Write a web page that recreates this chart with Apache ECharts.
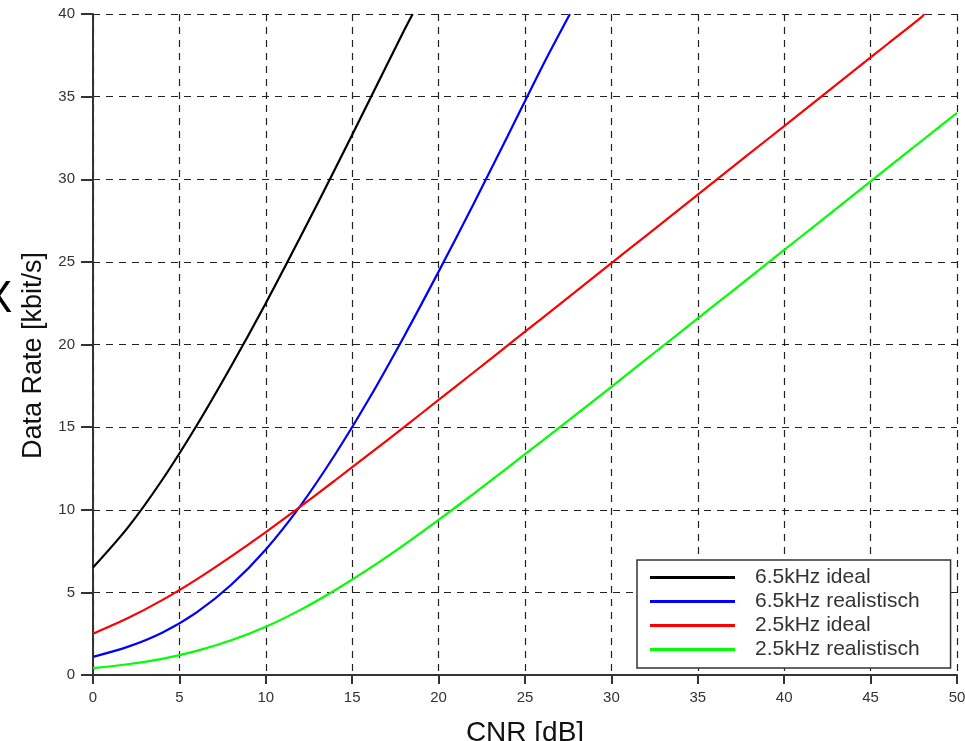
<!DOCTYPE html>
<html>
<head>
<meta charset="utf-8">
<script src="https://cdn.jsdelivr.net/npm/echarts@6/dist/echarts.min.js"></script>
<style>
  html, body { margin: 0; padding: 0; background: #fff; }
  #chart { width: 965px; height: 741px; }
</style>
</head>
<body>
<div id="chart"></div>
<script>
  // values (CNR in dB, data rate in kbit/s)
  var xTicks = [0, 5, 10, 15, 20, 25, 30, 35, 40, 45, 50];
  var yTicks = [0, 5, 10, 15, 20, 25, 30, 35, 40];

  var ideal65X = [0, 2, 4, 6, 8, 10, 12, 14, 16, 18, 18.5];
  var ideal65Y = [6.5, 8.9, 11.8, 15.1, 18.7, 22.5, 26.5, 30.6, 34.8, 39.0, 40];

  var real65X = [0, 2, 4, 6, 8, 10, 12, 14, 16, 18, 20, 22, 24, 26, 27.6];
  var real65Y = [1.1, 1.7, 2.56, 3.79, 5.46, 7.6, 10.24, 13.33, 16.76, 20.49, 24.41, 28.46, 32.62, 36.83, 40];

  var ideal25X = [0, 2, 4, 6, 8, 10, 12, 14, 16, 18, 20, 22, 24, 26, 28, 30, 32, 34, 36, 38, 40, 42, 44, 46, 48, 48.1];
  var ideal25Y = [2.5, 3.43, 4.53, 5.79, 7.18, 8.65, 10.19, 11.77, 13.38, 15.0, 16.65, 18.29, 19.95, 21.6, 23.26,
                  24.92, 26.58, 28.24, 29.9, 31.56, 33.22, 34.88, 36.54, 38.2, 39.86, 40];

  var real25X = [0, 2, 4, 6, 8, 10, 12, 14, 16, 18, 20, 22, 24, 26, 28, 30, 32, 34, 36, 38, 40, 42, 44, 46, 48, 50];
  var real25Y = [0.42, 0.65, 0.98, 1.46, 2.1, 2.92, 3.94, 5.13, 6.45, 7.88, 9.39, 10.95, 12.55, 14.17, 15.8,
                 17.44, 19.1, 20.75, 22.41, 24.06, 25.72, 27.38, 29.04, 30.7, 32.36, 34.02];

  function pairs(xs, ys) {
      return xs.map(function (x, i) { return [x, ys[i]]; });
  }

  var dom = document.getElementById("chart");
  var myChart = echarts.init(dom);

  var gridLine = { show: true, lineStyle: { color: '#222', width: 1.2, type: [7, 6] } };
  var axisLine = { show: true, lineStyle: { color: '#333', width: 2 } };

  function makeSeries(name, color, xs, ys) {
      return {
          name: name,
          type: 'line',
          smooth: 0.3,
          symbol: 'none',
          showSymbol: false,
          lineStyle: { color: color, width: 2.2 },
          itemStyle: { color: color },
          data: pairs(xs, ys)
      };
  }

  var option = {
      backgroundColor: '#fff',
      animation: false,
      textStyle: { fontFamily: 'Liberation Sans, Arial, sans-serif' },
      grid: { left: 93, right: 8, top: 14, bottom: 66, containLabel: false, outerBoundsMode: 'none' },
      legend: {
          orient: 'vertical',
          left: 637,
          top: 560,
          backgroundColor: '#fff',
          borderColor: '#333',
          borderWidth: 1.5,
          borderRadius: 0,
          padding: [7, 31, 8, 13],
          itemGap: 3,
          itemWidth: 85,
          itemHeight: 3,
          icon: 'rect',
          formatter: function (n) { return '{gap|}' + n; },
          textStyle: {
              color: '#333',
              fontSize: 21,
              fontFamily: 'Liberation Sans, Arial, sans-serif',
              rich: { gap: { width: 15 } }
          },
          data: ['6.5kHz ideal', '6.5kHz realistisch', '2.5kHz ideal', '2.5kHz realistisch']
      },
      xAxis: {
          type: 'value',
          min: xTicks[0],
          max: xTicks[xTicks.length - 1],
          interval: 5,
          name: 'CNR [dB]',
          nameLocation: 'middle',
          nameGap: 44,
          nameTextStyle: { color: '#111', fontSize: 28, fontFamily: 'Liberation Sans, Arial, sans-serif' },
          axisLine: axisLine,
          axisTick: { show: true, length: 9, lineStyle: { color: '#333', width: 2 } },
          axisLabel: { color: '#333', fontSize: 15, margin: 15 },
          splitLine: gridLine
      },
      yAxis: {
          type: 'value',
          min: yTicks[0],
          max: yTicks[yTicks.length - 1],
          interval: 5,
          name: 'Data Rate [kbit/s]',
          nameLocation: 'middle',
          nameGap: 45,
          nameTextStyle: { color: '#111', fontSize: 27,
                           fontFamily: 'Liberation Sans, Arial, sans-serif', padding: [0, 22, 0, 0] },
          axisLine: axisLine,
          axisTick: { show: true, length: 12, lineStyle: { color: '#333', width: 2 } },
          axisLabel: { color: '#333', fontSize: 15, margin: 18 },
          splitLine: gridLine
      },
      graphic: [
          { type: 'text', left: -17, top: 278, style: { text: 'X', fontSize: 44, fill: '#000',
            fontFamily: 'Liberation Sans, Arial, sans-serif' } }
      ],
      series: [
          makeSeries('6.5kHz ideal', '#000000', ideal65X, ideal65Y),
          makeSeries('6.5kHz realistisch', '#0000ff', real65X, real65Y),
          makeSeries('2.5kHz ideal', '#ff0000', ideal25X, ideal25Y),
          makeSeries('2.5kHz realistisch', '#00ff00', real25X, real25Y)
      ]
  };

  if (option && typeof option === "object") {
      myChart.setOption(option, true);
  }
</script>
</body>
</html>
